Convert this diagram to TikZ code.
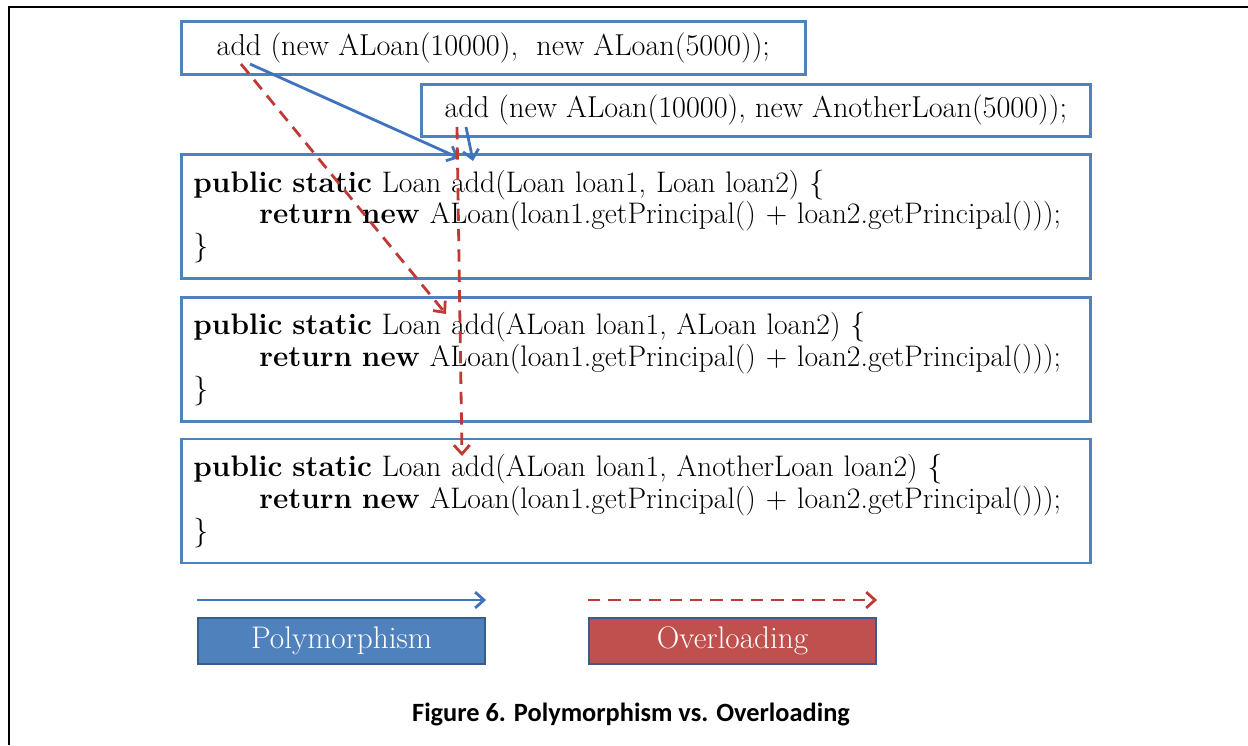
\documentclass[tikz,border=0pt]{standalone}
\usepackage{fontspec}
\newfontfamily\capfont{Carlito}
\usetikzlibrary{arrows.meta,positioning}

\definecolor{boxblue}{HTML}{4F81BD}
\definecolor{lineblue}{HTML}{3F73BE}
\definecolor{boxred}{HTML}{C0504D}
\definecolor{linered}{HTML}{BF3A36}
\definecolor{legendrim}{HTML}{385D8A}

\newcommand{\codefont}{\fontsize{16.9}{18}\selectfont}

\begin{document}
\begin{tikzpicture}[x=0.02cm,y=-0.02cm,
	>={Straight Barb[length=5pt,width=9pt]},
	call box/.style={draw=boxblue,line width=1.6pt,inner sep=0pt,font=\fontsize{17.2}{18}\selectfont,anchor=north west},
	code box/.style={draw=boxblue,line width=1.6pt,inner xsep=0.24cm,inner ysep=0pt,
		text width=17.7cm,minimum height=2.48cm,align=left,font=\codefont},
	legend box/.style={draw=legendrim,line width=1.2pt,minimum width=5.74cm,minimum height=0.92cm,
		text=white,font=\fontsize{17.8}{18}\selectfont,anchor=north west},
	poly/.style={->,lineblue,line width=1.6pt},
	over/.style={->,linered,line width=1.6pt,dash pattern=on 7pt off 4.6pt}
]

	\def \ind {\hspace*{1.32cm}};

	\useasboundingbox (0,0) rectangle (1248,745);
	\draw[line width=1.1pt] (9,745) -- (9,7) -- (1248,7);

	% the two calls
	\node[call box,minimum width=12.48cm,minimum height=1.06cm] (callA) at (180,20)
		{add (new ALoan(10000),\ \ new ALoan(5000));};
	\node[call box,minimum width=13.38cm,minimum height=1.04cm] (callB) at (420,83)
		{add (new ALoan(10000), new AnotherLoan(5000));};

	% the three methods
	\node[code box,anchor=north west] (addLL) at (180,153)
		{\textbf{public static} Loan add(Loan loan1, Loan loan2) \{\\
		\ind\textbf{return new} ALoan(loan1.getPrincipal() + loan2.getPrincipal()));\\
		\}};
	\node[code box,below=0.32cm of addLL] (addAA)
		{\textbf{public static} Loan add(ALoan loan1, ALoan loan2) \{\\
		\ind\textbf{return new} ALoan(loan1.getPrincipal() + loan2.getPrincipal()));\\
		\}};
	\node[code box,below=0.30cm of addAA] (addAN)
		{\textbf{public static} Loan add(ALoan loan1, AnotherLoan loan2) \{\\
		\ind\textbf{return new} ALoan(loan1.getPrincipal() + loan2.getPrincipal()));\\
		\}};

	% legend
	\node[legend box,fill=boxblue] (polyKey) at (197,617) {Polymorphism};
	\node[legend box,fill=boxred,right=2.04cm of polyKey] (overKey) {Overloading};

	\node[font=\capfont\bfseries\fontsize{15}{17}\selectfont] (caption) at (631,714)
		{Figure 6. Polymorphism vs. Overloading};

	% arrow ends
	\coordinate (pA) at (250,64);
	\coordinate (qA) at (241,64);
	\coordinate (pB) at (466,127);
	\coordinate (qB) at (457,127);
	\coordinate (tipLL) at (459,158);
	\coordinate (tipLLb) at (473,161);
	\coordinate (tipAA) at (446,314);
	\coordinate (tipAN) at (462,456);

	\draw[poly] (pA) -- (tipLL);
	\draw[poly] (pB) -- (tipLLb);
	\draw[over] (qA) -- (tipAA);
	\draw[over] (qB) -- (tipAN);

	\draw[poly] ([yshift=0.34cm]polyKey.north west) -- ([yshift=0.34cm]polyKey.north east);
	\draw[over] ([yshift=0.34cm]overKey.north west) -- ([yshift=0.34cm]overKey.north east);
\end{tikzpicture}
\end{document}
